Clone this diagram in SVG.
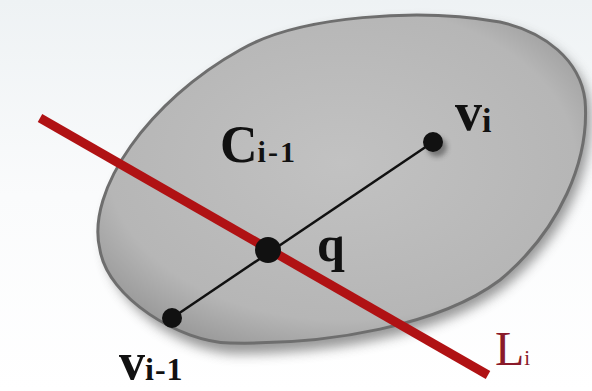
<svg xmlns="http://www.w3.org/2000/svg" width="592" height="391" viewBox="0 0 592 391">
<style>
.lbl{font-family:"Liberation Serif","Times New Roman",serif;font-weight:bold;fill:#111}
.red{fill:#8a1a2a;font-weight:normal}
</style>
<defs>
<linearGradient id="bg" x1="0" y1="0" x2="0" y2="1">
<stop offset="0" stop-color="#eef2f4"/>
<stop offset="0.5" stop-color="#fafbfc"/>
<stop offset="1" stop-color="#ffffff"/>
</linearGradient>
<radialGradient id="blobFill" cx="0.5" cy="0.45" r="0.6">
<stop offset="0" stop-color="#c2c2c2"/>
<stop offset="0.8" stop-color="#b6b6b6"/>
<stop offset="1" stop-color="#9c9c9c"/>
</radialGradient>
<filter id="shadow" x="-20%" y="-20%" width="140%" height="140%">
<feGaussianBlur stdDeviation="6"/>
</filter>
<filter id="dotShadow" x="-50%" y="-50%" width="200%" height="200%">
<feGaussianBlur stdDeviation="2.5"/>
</filter>
</defs>
<rect width="592" height="391" fill="url(#bg)"/>
<g id="region">
<path d="M 104,258 C 84,195 150,100 240,50 C 300,15 420,8 500,22 C 545,32 582,60 586,100 C 592,160 562,232 500,282 C 440,328 330,348 232,348 C 180,346 118,305 104,258 Z" fill="#555" opacity="0.6" filter="url(#shadow)" transform="translate(4,6)"/>
<path d="M 100,250 C 85,190 150,100 240,50 C 300,15 420,8 500,22 C 545,32 580,60 585,100 C 590,160 560,230 500,280 C 440,325 330,345 230,343 C 180,342 108,298 100,250 Z" fill="url(#blobFill)" stroke="#6e6e6e" stroke-width="3"/>
<text class="lbl" x="220" y="162" font-size="52">C<tspan font-size="30" letter-spacing="2">i-1</tspan></text>
</g>
<g id="connectors">
<line x1="172" y1="318" x2="433" y2="142" stroke="#111" stroke-width="2.5"/>
<line x1="40" y1="118" x2="488" y2="375" stroke="#b01214" stroke-width="9"/>
</g>
<g id="node-vi">
<circle cx="437" cy="147" r="10" fill="#333" opacity="0.5" filter="url(#dotShadow)"/>
<circle cx="433" cy="142" r="10" fill="#111"/>
<text class="lbl" x="455" y="130" font-size="54">v<tspan font-size="34" dy="2">i</tspan></text>
</g>
<g id="node-q">
<circle cx="268" cy="250" r="13" fill="#111"/>
<text class="lbl" x="317" y="261" font-size="50">q</text>
</g>
<g id="node-vi-1">
<circle cx="172" cy="318" r="10" fill="#111"/>
<text class="lbl" x="119" y="379" font-size="52">v<tspan font-size="32" dy="1" letter-spacing="1">i-1</tspan></text>
</g>
<g id="label-Li">
<text class="lbl red" x="495" y="365" font-size="48">L<tspan font-size="21">i</tspan></text>
</g>
</svg>
